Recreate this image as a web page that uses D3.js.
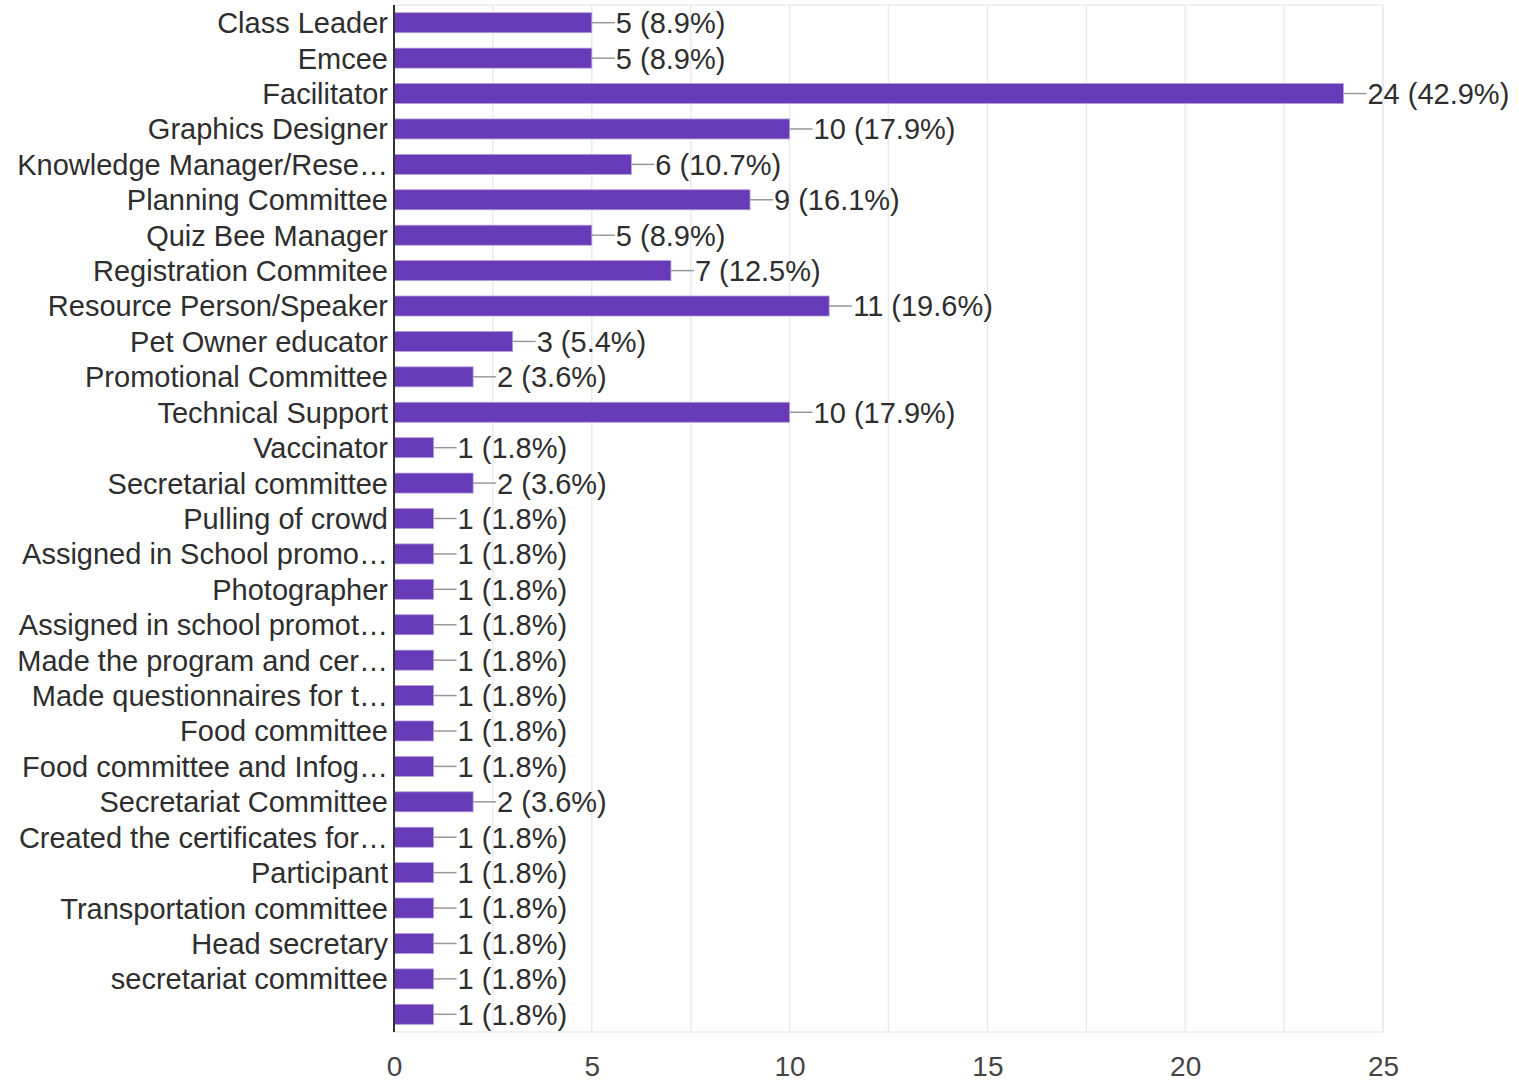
<!DOCTYPE html>
<html>
<head>
<meta charset="utf-8">
<script src="https://cdn.jsdelivr.net/npm/d3@7"></script>
<style>
  body { margin: 0; background: #fff; }
  text { font-family: "Liberation Sans", Arial, sans-serif; }
</style>
</head>
<body>
<div id="viz"></div>
<script>
// Responses, in the order shown on the form
const roles = [
  'Class Leader', 'Emcee', 'Facilitator', 'Graphics Designer',
  'Knowledge Manager/Rese…', 'Planning Committee', 'Quiz Bee Manager',
  'Registration Commitee', 'Resource Person/Speaker', 'Pet Owner educator',
  'Promotional Committee', 'Technical Support', 'Vaccinator',
  'Secretarial committee', 'Pulling of crowd', 'Assigned in School promo…',
  'Photographer', 'Assigned in school promot…', 'Made the program and cer…',
  'Made questionnaires for t…', 'Food committee', 'Food committee and Infog…',
  'Secretariat Committee', 'Created the certificates for…', 'Participant',
  'Transportation committee', 'Head secretary', 'secretariat committee', ''
];
const counts = [5, 5, 24, 10, 6, 9, 5, 7, 11, 3, 2, 10, 1, 2, 1, 1, 1, 1, 1, 1, 1, 1, 2, 1, 1, 1, 1, 1, 1];
const totalResponses = 56;
const xTicks = [0, 5, 10, 15, 20, 25];
const xGrid = [2.5, 5, 7.5, 10, 12.5, 15, 17.5, 20, 22.5, 25];

const rows = roles.map((r, i) => ({ key: i, role: r, count: counts[i] }));

let dimensions = {
  width: 1519,
  height: 1083,
  margin: { top: 5, right: 136, bottom: 51, left: 394 },
};
dimensions.boundedWidth = dimensions.width - dimensions.margin.left - dimensions.margin.right;
dimensions.boundedHeight = dimensions.height - dimensions.margin.top - dimensions.margin.bottom;

const fontFamily = '"Liberation Sans", Arial, sans-serif';
const leaderLen = 23;

const svg = d3.select('#viz').append('svg')
  .attr('width', dimensions.width)
  .attr('height', dimensions.height);

const bounds = svg.append('g')
  .attr('transform', `translate(${dimensions.margin.left},${dimensions.margin.top})`);

// Scales
const x = d3.scaleLinear().domain([0, 25]).range([0, dimensions.boundedWidth]);
const y = d3.scaleBand()
  .domain(rows.map(d => d.key))
  .range([0, dimensions.boundedHeight])
  .paddingInner(0.435)
  .paddingOuter(0.2175);

// Grid + frame
bounds.append('rect')
  .attr('x', 0).attr('y', 0)
  .attr('width', dimensions.boundedWidth)
  .attr('height', dimensions.boundedHeight)
  .style('fill', 'none')
  .style('stroke', '#ebebeb')
  .style('stroke-width', 1.5);

bounds.selectAll('.grid')
  .data(xGrid)
  .join('line')
  .attr('class', 'grid')
  .attr('x1', d => x(d)).attr('x2', d => x(d))
  .attr('y1', 0).attr('y2', dimensions.boundedHeight)
  .style('stroke', '#ebebeb')
  .style('stroke-width', 1.5);

// x axis tick labels
const xAxis = d3.axisBottom(x).tickValues(xTicks).tickSize(0).tickPadding(24);
const xAxisG = bounds.append('g')
  .attr('transform', `translate(0,${dimensions.boundedHeight})`)
  .call(xAxis);
xAxisG.select('.domain').remove();
xAxisG.selectAll('text')
  .style('font-size', '28px')
  .style('fill', '#444')
  .style('font-family', fontFamily);

// y axis labels
const yAxis = d3.axisLeft(y).tickFormat(k => rows[k].role).tickSize(0).tickPadding(6);
const yAxisG = bounds.append('g').call(yAxis);
yAxisG.select('.domain').remove();
yAxisG.selectAll('text')
  .attr('dy', '0.36em')
  .style('font-size', '29px')
  .style('fill', '#2e2e2e')
  .style('font-family', fontFamily);

// bars
bounds.selectAll('.bar')
  .data(rows)
  .join('rect')
  .attr('class', 'bar')
  .attr('x', 0)
  .attr('y', d => y(d.key))
  .attr('width', d => x(d.count))
  .attr('height', y.bandwidth())
  .style('fill', '#673ab7')
  .style('stroke', '#b39ddb')
  .style('stroke-width', 0.8);

// leader lines
bounds.selectAll('.leader')
  .data(rows)
  .join('line')
  .attr('class', 'leader')
  .attr('x1', d => x(d.count))
  .attr('x2', d => x(d.count) + leaderLen)
  .attr('y1', d => y(d.key) + y.bandwidth() / 2)
  .attr('y2', d => y(d.key) + y.bandwidth() / 2)
  .style('stroke', '#999')
  .style('stroke-width', 1.5);

// value labels
bounds.selectAll('.val')
  .data(rows)
  .join('text')
  .attr('class', 'val')
  .attr('x', d => x(d.count) + leaderLen + 1)
  .attr('y', d => y(d.key) + y.bandwidth() / 2)
  .attr('dy', '0.36em')
  .style('font-size', '29px')
  .style('fill', '#2e2e2e')
  .style('font-family', fontFamily)
  .text(d => `${d.count} (${(d.count / totalResponses * 100).toFixed(1)}%)`);

// axis line at zero
bounds.append('line')
  .attr('x1', x(0)).attr('x2', x(0))
  .attr('y1', 0).attr('y2', dimensions.boundedHeight)
  .style('stroke', '#333')
  .style('stroke-width', 2);
</script>
</body>
</html>
